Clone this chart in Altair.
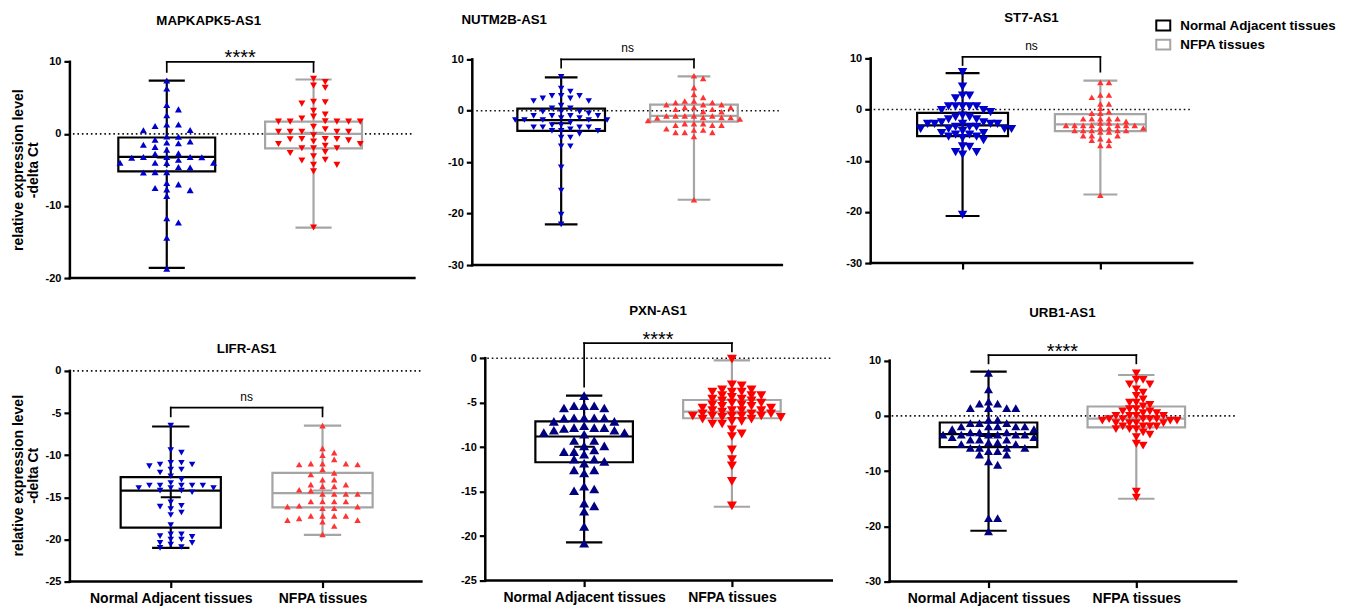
import altair as alt
import pandas as pd

FONT = "Liberation Sans"

GENES = ["MAPKAPK5-AS1", "NUTM2B-AS1", "ST7-AS1", "LIFR-AS1", "PXN-AS1", "URB1-AS1"]
GROUPS = ["Normal Adjacent tissues", "NFPA tissues"]
SIGNIF = ["****", "ns", "ns", "ns", "****", "****"]

# ---- individual -delta Ct values ----
MAPK_NORMAL = [7.4, 6.3, 4.0, 3.4, 2.6, 1.3, 1.3, 1.1, 0.55, 0.5, -0.4, -0.35, -0.8, -1.05, -1.3, -1.2,
               -1.5, -1.8, -2.2, -2.75, -2.7, -3.2, -3.2, -3.25, -3.2, -3.3, -3.6, -4.0, -4.0, -4.05, -4.0,
               -4.6, -4.65, -5.3, -5.3, -5.35, -6.8, -7.0, -7.5, -7.7, -7.8, -8.6, -12.3, -11.7, -14.4, -18.7]
MAPK_NFPA = [7.66, 7.2, 6.7, 6.4, 4.45, 4.4, 4.2, 3.2, 2.7, 2.4, 2.15, 1.7, 1.7, 1.7, 1.75, 1.7, 1.7, 1.0,
             0.65, 0.3, 0.3, 0.3, 0.3, 0.3, -0.2, -0.7, -0.7, -0.7, -0.75, -0.9, -1.05, -1.4, -1.4, -1.65,
             -2.0, -2.0, -2.0, -2.5, -2.65, -3.1, -3.6, -3.7, -4.3, -4.3, -5.2, -13.0]
NUTM_NORMAL = [6.6, 4.3, 3.75, 2.9, 2.9, 2.9, 2.4, 2.4, 1.9, 1.9, 1.0, 0.5, 0.5, -0.2, -0.2, -0.2, -0.5,
               -1.0, -1.0, -1.0, -1.0, -1.4, -1.4, -1.8, -1.8, -1.8, -1.8, -1.8, -2.3, -2.8, -2.8, -3.2,
               -3.2, -3.2, -3.2, -3.6, -3.9, -3.9, -3.9, -4.5, -5.2, -5.2, -6.9, -6.9, -11.0, -15.5, -20.2, -22.1]
NUTM_NFPA = [6.8, 6.3, 4.5, 3.2, 2.6, 1.9, 1.9, 1.6, 1.6, 1.2, 1.2, 1.2, 0.65, 0.65, 0.65, 0.3, 0.3, -0.15,
             -0.2, -1.0, -1.0, -1.0, -1.0, -1.0, -1.3, -1.3, -1.3, -1.4, -1.6, -1.9, -2.5, -2.5, -2.5, -2.8,
             -2.8, -2.8, -3.5, -3.75, -3.75, -4.2, -4.2, -4.2, -5.0, -17.3]
ST7_NORMAL = [7.3, 4.5, 2.7, 2.7, 2.2, 0.6, 0.6, 0.6, 0.6, 0.6, -0.1, -0.1, -0.5, -1.2, -1.5, -1.5, -1.9,
              -1.9, -2.5, -2.5, -2.8, -2.8, -2.8, -2.8, -2.8, -3.4, -3.4, -3.4, -3.8, -3.8, -3.8, -3.8, -4.2,
              -4.6, -4.6, -4.9, -4.9, -5.3, -5.3, -5.6, -6.0, -7.2, -7.3, -8.3, -8.3, -8.8, -20.6]
ST7_NFPA = [5.3, 5.3, 2.85, 2.85, 2.4, 1.1, 1.1, 0.25, -0.4, -0.7, -0.7, -1.8, -1.8, -1.8, -1.8, -1.8, -2.3,
            -2.6, -2.6, -3.1, -3.1, -3.1, -3.1, -3.1, -3.1, -3.1, -3.6, -3.6, -3.6, -4.1, -4.1, -4.1, -4.1,
            -4.1, -4.4, -4.4, -5.1, -5.1, -5.1, -5.7, -6.0, -6.0, -7.0, -7.0, -16.75]
LIFR_NORMAL = [-6.5, -9.4, -9.7, -10.9, -10.9, -11.1, -11.1, -11.3, -11.7, -11.7, -12.05, -12.5, -12.9,
               -13.3, -13.6, -13.6, -13.6, -13.6, -13.6, -13.9, -13.9, -13.9, -14.2, -14.2, -14.4, -15.6,
               -16.0, -16.1, -16.4, -16.8, -17.1, -18.3, -19.4, -19.4, -19.6, -19.7, -20.0, -20.0, -20.4,
               -20.4, -20.6, -20.9, -21.0]
LIFR_NFPA = [-6.5, -9.2, -9.7, -10.0, -10.5, -11.0, -11.0, -11.0, -11.1, -11.1, -11.7, -12.1, -12.3, -12.9,
             -12.9, -13.5, -13.5, -13.7, -13.7, -14.1, -14.2, -14.6, -14.6, -14.6, -14.6, -15.5, -15.5, -15.5,
             -15.5, -16.0, -16.1, -16.1, -16.3, -16.3, -17.2, -17.2, -17.2, -17.2, -17.5, -17.7, -17.7,
             -17.9, -18.4, -19.4]
PXN_NORMAL = [-4.2, -5.35, -5.35, -5.35, -5.6, -5.6, -6.7, -6.7, -6.7, -6.7, -6.75, -7.1, -7.1, -7.6, -7.8,
              -7.8, -7.8, -7.9, -8.1, -8.1, -8.35, -8.35, -8.55, -9.25, -9.25, -9.85, -9.85, -10.3, -10.5,
              -10.5, -10.8, -11.35, -11.35, -11.6, -11.8, -12.55, -12.55, -12.9, -14.4, -14.7, -14.9, -16.3,
              -16.6, -17.2, -18.9, -20.8]
PXN_NFPA = [-0.1, -3.0, -3.1, -3.55, -3.55, -3.8, -3.8, -3.8, -4.2, -4.2, -4.2, -4.4, -4.6, -4.6, -4.8, -4.8,
            -5.05, -5.05, -5.25, -5.25, -5.4, -5.4, -5.6, -5.6, -5.9, -5.9, -5.9, -5.9, -6.05, -6.25, -6.25,
            -6.25, -6.5, -6.5, -6.5, -6.5, -6.5, -6.65, -6.65, -6.85, -6.85, -7.1, -7.1, -7.4, -7.4, -8.05,
            -8.5, -8.8, -10.3, -11.4, -12.1, -13.85, -16.6]
URB1_NORMAL = [7.8, 4.8, 2.6, 2.2, 2.2, 1.4, 1.4, 1.4, 1.4, -0.7, -0.7, -1.3, -1.3, -1.3, -1.9, -1.9, -1.9,
               -1.9, -1.9, -2.4, -2.4, -3.0, -3.0, -3.0, -3.4, -3.4, -3.4, -3.4, -3.4, -3.4, -3.85, -3.85,
               -4.3, -4.3, -4.3, -4.8, -4.8, -5.1, -5.1, -5.8, -5.8, -5.8, -5.8, -6.4, -6.4, -7.0, -7.0,
               -8.25, -8.85, -18.5, -18.5, -20.9]
URB1_NFPA = [7.7, 6.5, 6.5, 5.7, 5.7, 4.8, 4.2, 3.6, 3.0, 2.4, 2.4, 2.0, 1.7, 1.2, 1.2, 0.8, 0.8, 0.5, 0.5,
             0.0, 0.0, 0.0, 0.0, -0.6, -0.6, -0.6, -0.6, -0.6, -0.85, -0.85, -0.85, -1.3, -1.3, -1.3, -1.3,
             -1.9, -1.9, -1.9, -1.9, -2.4, -2.4, -2.4, -3.0, -3.4, -3.85, -5.05, -5.4, -13.7, -14.8]

# ---- box statistics: [min, Q1, median, Q3, max] ----
MAPK_NORMAL_BOX = [-18.6, -5.2, -3.2, -0.5, 7.4]
MAPK_NFPA_BOX = [-13.0, -2.0, 0.0, 1.7, 7.55]
NUTM_NORMAL_BOX = [-22.1, -3.9, -1.8, 0.4, 6.5]
NUTM_NFPA_BOX = [-17.3, -2.1, -1.0, 1.2, 6.7]
ST7_NORMAL_BOX = [-20.8, -5.2, -3.1, -0.65, 7.1]
ST7_NFPA_BOX = [-16.6, -4.2, -2.9, -0.9, 5.65]
LIFR_NORMAL_BOX = [-21.0, -18.6, -14.2, -12.6, -6.6]
LIFR_NFPA_BOX = [-19.45, -16.2, -14.5, -12.1, -6.5]
PXN_NORMAL_BOX = [-20.7, -11.7, -8.8, -7.1, -4.2]
PXN_NFPA_BOX = [-16.7, -6.75, -6.0, -4.7, -0.25]
URB1_NORMAL_BOX = [-20.8, -5.65, -3.3, -1.2, 8.0]
URB1_NFPA_BOX = [-15.0, -2.1, -0.5, 1.7, 7.4]

# ---- significance brackets (data units) ----
BRACKET_LEVEL = [10, 10, 10.3, -4.35, 1.7, 11.0]
BRACKET_LEFT_END = [8.6, 8.4, 8.7, -5.4, -3.2, 9.5]
BRACKET_RIGHT_END = [8.6, 8.4, 7.4, -5.4, 0.75, 9.5]

Y_TICKS = [[10, 0, -10, -20], [10, 0, -10, -20, -30], [10, 0, -10, -20, -30],
           [0, -5, -10, -15, -20, -25], [0, -5, -10, -15, -20, -25], [10, 0, -10, -20, -30]]

POINTS = [(MAPK_NORMAL, MAPK_NFPA), (NUTM_NORMAL, NUTM_NFPA), (ST7_NORMAL, ST7_NFPA),
          (LIFR_NORMAL, LIFR_NFPA), (PXN_NORMAL, PXN_NFPA), (URB1_NORMAL, URB1_NFPA)]
BOXES = [(MAPK_NORMAL_BOX, MAPK_NFPA_BOX), (NUTM_NORMAL_BOX, NUTM_NFPA_BOX), (ST7_NORMAL_BOX, ST7_NFPA_BOX),
         (LIFR_NORMAL_BOX, LIFR_NFPA_BOX), (PXN_NORMAL_BOX, PXN_NFPA_BOX), (URB1_NORMAL_BOX, URB1_NFPA_BOX)]

BOX_COLORS = ["#000000", "#A5A5A5"]
BLUE, NAVY, RED, LRED = "#0000CC", "#000080", "#FF0000", "#FF3333"

# ---- layout / style per panel ----
STYLE = [
    dict(h=220, ydom=(-20, 10.48), ax=0, c1=97, ppu=147, xend=345, zs=3, ze=343, xaxis="none",
         title=(139, -33), ytitle=112, shapes=("triangle-up", "triangle-down"), colors=(BLUE, RED),
         w=(7, 7), step=(11.7, 11.7), vf=(0.85, 0.8)),
    dict(h=207, ydom=(-30, 10.19), ax=3, c1=92, ppu=133, xend=313, zs=7, ze=310, xaxis="none",
         title=(35, -34), ytitle=None, shapes=("triangle-down", "triangle-up"), colors=(BLUE, LRED),
         w=(6.5, 6.5), step=(9.2, 9.2), vf=(0.8, 0.8)),
    dict(h=205, ydom=(-30, 10.0), ax=2, c1=94, ppu=138, xend=324, zs=5, ze=323, xaxis="ticks",
         title=(163, -36), ytitle=None, shapes=("triangle-down", "triangle-up"), colors=(BLUE, LRED),
         w=(9.5, 6.5), step=(7.0, 8.6), vf=(0.75, 0.6)),
    dict(h=224, ydom=(-25, 1.54), ax=0, c1=101, ppu=152, xend=352, zs=3, ze=352, xaxis="labels",
         title=(177, -5.3), ytitle=118, shapes=("triangle-down", "triangle-up"), colors=(BLUE, LRED),
         w=(6.5, 6.5), step=(10.7, 11.7), vf=(0.7, 0.8)),
    dict(h=223, ydom=(-25, 0.03), ax=16, c1=115, ppu=148, xend=363, zs=18, ze=363, xaxis="labels",
         title=(189, -43), ytitle=None, shapes=("triangle-up", "triangle-down"), colors=(NAVY, RED),
         w=(10, 10), step=(10.1, 9.8), vf=(0.75, 0.5)),
    dict(h=224, ydom=(-30, 10.49), ax=21, c1=120, ppu=148, xend=368, zs=23, ze=368, xaxis="labels",
         title=(194, -41.3), ytitle=None, shapes=("triangle-up", "triangle-down"), colors=(NAVY, RED),
         w=(9, 9), step=(9.1, 6.8), vf=(0.7, 0.65)),
]
PANEL_W = 400
BOX_HALF = 0.33
CAP_HALF = 0.123


def swarm(values, step, w, vgap, ppy):
    """Deterministic beeswarm: column offsets (px) so markers do not collide."""
    cands = [0]
    for m in range(1, 60):
        cands += [m, -m]
    placed = []
    out = [0.0] * len(values)
    for i in sorted(range(len(values)), key=lambda j: -values[j]):
        y = values[i] * ppy
        x = 0.0
        for k in cands:
            x = k * step
            if all(abs(x - px) >= 0.7 * w or abs(y - py) >= vgap for px, py in placed):
                break
        placed.append((x, y))
        out[i] = x
    return out


def one_row():
    return pd.DataFrame({"d": [0]})


def build_panel(i):
    st = STYLE[i]
    H = st["h"]
    ylo, yhi = st["ydom"]
    ppy = H / (yhi - ylo)
    ppu = st["ppu"]
    xdom = [1 - st["c1"] / ppu, 1 + (PANEL_W - st["c1"]) / ppu]
    xs = alt.Scale(domain=xdom, nice=False, zero=False)
    ys = alt.Scale(domain=[ylo, yhi], nice=False, zero=False)
    yax = alt.Axis(values=Y_TICKS[i], title="", labelExpr="'' + datum.value", offset=-st["ax"],
                   labelFont=FONT, labelFontWeight="bold", labelFontSize=11, labelColor="black",
                   labelPadding=3, tickSize=6, tickWidth=2.2, tickColor="black", domain=False, grid=False)
    if st["xaxis"] == "none":
        xax = None
    elif st["xaxis"] == "ticks":
        xax = alt.Axis(values=[1, 2], labels=False, title="", tickSize=6, tickWidth=2.2,
                       tickColor="black", domain=False, grid=False)
    else:
        expr = "datum.value == 1 ? '%s' : '%s'" % (GROUPS[0], GROUPS[1])
        xax = alt.Axis(values=[1, 2], labelExpr=expr, labelFont=FONT, labelFontWeight="bold",
                       labelFontSize=14, labelColor="black", labelPadding=4, labelFlush=False,
                       labelOverlap=False, title="", tickSize=6, tickWidth=2.2, tickColor="black",
                       domain=False, grid=False)

    def X(f):
        return alt.X(f, type="quantitative", scale=xs, axis=xax)

    def Y(f):
        return alt.Y(f, type="quantitative", scale=ys, axis=yax)

    layers = []
    ticks = Y_TICKS[i]

    # axis lines
    ydf = pd.DataFrame({"lo": [min(ticks)], "hi": [max(ticks)]})
    layers.append(alt.Chart(ydf).mark_rule(color="black", strokeWidth=2.5, strokeCap="square").encode(
        y=Y("lo"), y2="hi:Q", x=alt.value(st["ax"])))
    layers.append(alt.Chart(ydf).mark_rule(color="black", strokeWidth=2.5, strokeCap="square").encode(
        y=Y("lo"), x=alt.value(st["ax"]), x2=alt.value(st["xend"])))
    # zero reference line
    zdf = pd.DataFrame({"z": [0]})
    layers.append(alt.Chart(zdf).mark_rule(color="#111111", strokeWidth=1.6, strokeDash=[1.6, 2.9]).encode(
        y=Y("z"), x=alt.value(st["zs"]), x2=alt.value(st["ze"])))

    # boxes
    rows = []
    for g in range(2):
        mn, q1, md, q3, mx = BOXES[i][g]
        vals = POINTS[i][g]
        cat = g + 1
        rows.append(dict(cat=cat, xl=cat - BOX_HALF, xr=cat + BOX_HALF, cl=cat - CAP_HALF,
                         cr=cat + CAP_HALF, mn=mn, q1=q1, md=md, q3=q3, mx=mx,
                         mean=sum(vals) / len(vals), col=BOX_COLORS[g]))
    bdf = pd.DataFrame(rows)
    stroke = alt.Stroke("col:N", scale=None)
    sw = 2.2
    layers.append(alt.Chart(bdf).mark_rect(fillOpacity=0, strokeWidth=sw).encode(
        x=X("xl"), x2="xr:Q", y=Y("q1"), y2="q3:Q", stroke=stroke))
    layers.append(alt.Chart(bdf).mark_rule(strokeWidth=sw).encode(
        x=X("xl"), x2="xr:Q", y=Y("md"), stroke=stroke))
    layers.append(alt.Chart(bdf).mark_rule(strokeWidth=sw).encode(
        x=X("cat"), y=Y("q3"), y2="mx:Q", stroke=stroke))
    layers.append(alt.Chart(bdf).mark_rule(strokeWidth=sw).encode(
        x=X("cat"), y=Y("mn"), y2="q1:Q", stroke=stroke))
    layers.append(alt.Chart(bdf).mark_rule(strokeWidth=sw).encode(
        x=X("cl"), x2="cr:Q", y=Y("mx"), stroke=stroke))
    layers.append(alt.Chart(bdf).mark_rule(strokeWidth=sw).encode(
        x=X("cl"), x2="cr:Q", y=Y("mn"), stroke=stroke))
    # mean "+"
    layers.append(alt.Chart(bdf).mark_point(shape="M-1,0L1,0M0,-1L0,1", filled=False, size=400,
                                            strokeWidth=2, opacity=1).encode(
        x=X("cat"), y=Y("mean"), stroke=stroke))

    # points
    for g in range(2):
        vals = POINTS[i][g]
        offs = swarm(vals, st["step"][g], st["w"][g], st["vf"][g] * st["w"][g], ppy)
        pdf = pd.DataFrame({"x": [g + 1 + o / ppu for o in offs], "v": vals})
        layers.append(alt.Chart(pdf).mark_point(shape=st["shapes"][g], filled=True, opacity=1,
                                                size=st["w"][g] ** 2, color=st["colors"][g]).encode(
            x=X("x"), y=Y("v")))

    # significance bracket
    lv, le, re_ = BRACKET_LEVEL[i], BRACKET_LEFT_END[i], BRACKET_RIGHT_END[i]
    brdf = pd.DataFrame({"x": [1, 1, 2], "x2": [2, 1, 2], "y": [lv, lv, lv], "y2": [lv, le, re_]})
    layers.append(alt.Chart(brdf).mark_rule(color="black", strokeWidth=1.7, strokeCap="square").encode(
        x=X("x"), x2="x2:Q", y=Y("y"), y2="y2:Q"))
    sdf = pd.DataFrame({"x": [1.5], "y": [lv]})
    if SIGNIF[i] == "ns":
        lab = alt.Chart(sdf).mark_text(text="ns", font=FONT, fontSize=12, align="center",
                                       baseline="alphabetic", dy=-7, color="black")
    else:
        lab = alt.Chart(sdf).mark_text(text=SIGNIF[i], font=FONT, fontSize=20, align="center",
                                       baseline="alphabetic", dy=2.5, color="black")
    layers.append(lab.encode(x=X("x"), y=Y("y")))

    # panel title
    tx, ty = st["title"]
    layers.append(alt.Chart(one_row()).mark_text(text=GENES[i], font=FONT, fontSize=13.3,
                                                 fontWeight="bold", align="center",
                                                 baseline="alphabetic", color="black").encode(
        x=alt.value(tx), y=alt.value(ty)))

    # y-axis title (left column only)
    if st["ytitle"] is not None:
        layers.append(alt.Chart(one_row()).mark_text(
            text=["relative expression level", "-delta Ct"], font=FONT, fontSize=14, fontWeight="bold",
            angle=270, align="center", baseline="alphabetic", lineHeight=15, color="black").encode(
            x=alt.value(-47), y=alt.value(st["ytitle"])))

    if i == 0:
        # invisible anchor fixing the page offset of the whole figure
        layers.append(alt.Chart(one_row()).mark_rule(color="white", strokeWidth=1).encode(
            x=alt.value(-61.5), y=alt.value(-49.5), y2=alt.value(-45)))

    if i == 2:
        # legend
        for g, (yt, yb, ty_) in enumerate([(-38, -28, -28.4), (-18.7, -9, -9.1)]):
            layers.append(alt.Chart(one_row()).mark_rect(fill="white", stroke=BOX_COLORS[g],
                                                         strokeWidth=2).encode(
                x=alt.value(288), x2=alt.value(302), y=alt.value(yt), y2=alt.value(yb)))
            layers.append(alt.Chart(one_row()).mark_text(text=GROUPS[g], font=FONT, fontSize=13.4,
                                                         fontWeight="bold", align="left",
                                                         baseline="alphabetic", color="black").encode(
                x=alt.value(312), y=alt.value(ty_)))

    return alt.layer(*layers).properties(width=PANEL_W, height=H)


panels = [build_panel(i) for i in range(6)]
chart = alt.concat(*panels, columns=3, spacing={"row": 80, "column": 0}, bounds="flush",
                   align="each").properties(
    padding={"left": 0, "top": 0, "right": 5, "bottom": 0}
).configure_view(strokeWidth=0)

chart.save("out.html", embed_options={"renderer": "svg", "actions": False})
